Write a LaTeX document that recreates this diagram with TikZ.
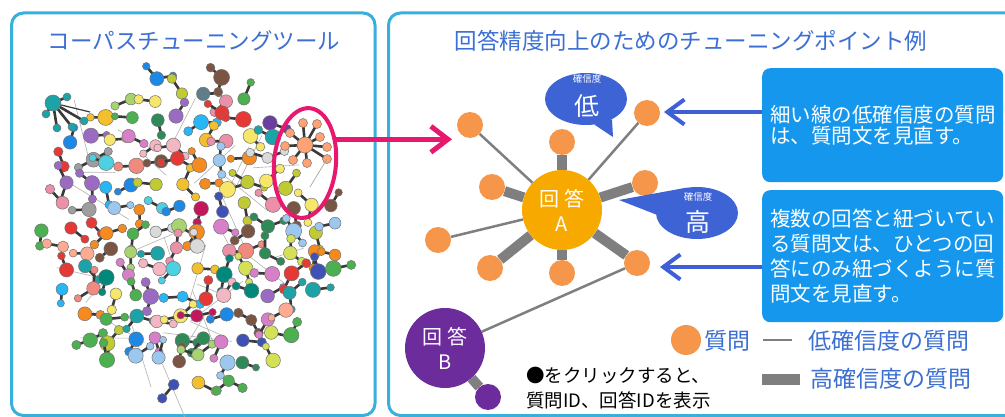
\documentclass[tikz,border=0pt]{standalone}
\usepackage{fontspec}
\setmainfont{Noto Sans CJK JP}
\usetikzlibrary{arrows.meta,shapes.geometric,backgrounds}
\definecolor{panel}{HTML}{38B0DC}
\definecolor{ttl}{HTML}{3B6FD3}
\definecolor{mag}{HTML}{E8186E}
\definecolor{barrowc}{HTML}{3F5FD6}
\definecolor{qor}{HTML}{F5964A}
\definecolor{gold}{HTML}{F8A900}
\definecolor{purp}{HTML}{6C2C9C}
\definecolor{edgec}{HTML}{7F7F7F}
\definecolor{boxc}{HTML}{1597EE}
\definecolor{bub}{HTML}{3E63D4}
\definecolor{bondc}{HTML}{3A3A3A}
\definecolor{c1}{HTML}{1BA3A8}
\definecolor{c2}{HTML}{F58A1F}
\definecolor{c3}{HTML}{9B6BC4}
\definecolor{c4}{HTML}{6A3FA0}
\definecolor{c5}{HTML}{E53935}
\definecolor{c6}{HTML}{C2185B}
\definecolor{c7}{HTML}{EC8FA8}
\definecolor{c8}{HTML}{D77FC8}
\definecolor{c9}{HTML}{A8D46F}
\definecolor{c10}{HTML}{4CAF50}
\definecolor{c11}{HTML}{2E8B57}
\definecolor{c12}{HTML}{D4E157}
\definecolor{c13}{HTML}{F6E66A}
\definecolor{c14}{HTML}{F2BF2E}
\definecolor{c15}{HTML}{29B6F6}
\definecolor{c16}{HTML}{1E88E5}
\definecolor{c17}{HTML}{3F51B5}
\definecolor{c18}{HTML}{9CC8F0}
\definecolor{c19}{HTML}{607D8B}
\definecolor{c20}{HTML}{9E9E9E}
\definecolor{c21}{HTML}{DADADA}
\definecolor{c22}{HTML}{7B5544}
\definecolor{c23}{HTML}{F08A7E}
\definecolor{c24}{HTML}{F4B6C2}
\definecolor{c25}{HTML}{4DD0E1}
\definecolor{c26}{HTML}{C0CA33}
\definecolor{c27}{HTML}{00897B}
\definecolor{c28}{HTML}{FFAB91}
\begin{document}
\begin{tikzpicture}[x=1pt,y=-1pt,
  panelbox/.style={draw=panel, line width=3pt, rounded corners=12pt},
  ttlfont/.style={font=\fontsize{22.5}{27}\selectfont, text=ttl, inner sep=0},
  qnode/.style={circle, fill=qor, minimum size=26pt, inner sep=0},
  ans/.style={circle, minimum size=80pt, inner sep=0, text=white, align=center, font=\fontsize{20}{25}\selectfont},
  hiedge/.style={line width=10pt, draw=edgec},
  loedge/.style={line width=2.5pt, draw=edgec},
  tbox/.style={rounded corners=8pt, fill=boxc, text=white, align=left, inner sep=8pt, text width=225pt, anchor=north west},
  bubble/.style={ellipse, fill=bub, minimum width=82pt, minimum height=52pt, inner sep=0},
  marrow/.style={draw=mag, line width=5pt, -{Straight Barb[length=17pt,width=26pt]}},
  barrow/.style={draw=barrowc, line width=4pt, -{Straight Barb[length=17pt,width=25pt]}},
  bond/.style={draw=bondc, line width=2.6pt},
  ball/.style={draw=black!55, line width=0.5pt},
  legtext/.style={font=\fontsize{23}{27}\selectfont, text=ttl, inner sep=0, anchor=west}
]
\useasboundingbox (0,0) rectangle (1005,417);
\begin{pgfonlayer}{background}
\fill[white] (0,0) rectangle (1005,417);
\end{pgfonlayer}
% panels
\draw[panelbox] (11.5,13) rectangle (375,415.5);
\draw[panelbox] (388.5,13) rectangle (1020,415.5);
\node[ttlfont] (t1) at (194,41) {コーパスチューニングツール};
\node[ttlfont] (t2) at (691,41) {回答精度向上のためのチューニングポイント例};

% ---------- left cloud ----------
\pgfmathsetseed{31415}
\foreach \j in {1,...,30}{
  \pgfmathsetmacro{\ang}{360*rnd}
  \pgfmathsetmacro{\rr}{sqrt(rnd)}
  \pgfmathsetmacro{\cx}{190+130*\rr*cos(\ang)}
  \pgfmathsetmacro{\cy}{232+140*\rr*sin(\ang)}
  \pgfmathsetmacro{\la}{360*rnd}
  \pgfmathsetmacro{\ll}{25+50*rnd}
  \draw[gray!60, line width=0.6pt] (\cx,\cy) -- ++(\la:\ll);
}
\foreach \gx in {0,...,13}{
 \foreach \gy in {0,...,14}{
  \pgfmathsetmacro{\cx}{44+22.5*\gx+12*(rnd-0.5)}
  \pgfmathsetmacro{\cy}{74+22*\gy+12*(rnd-0.5)}
  \pgfmathsetmacro{\ba}{360*rnd}
  \pgfmathsetmacro{\bl}{14+5*rnd}
  \pgfmathsetmacro{\rb}{5.5+2.5*rnd}
  \pgfmathsetmacro{\rs}{3.5+1.3*rnd}
  \pgfmathtruncatemacro{\ci}{random(1,28)}
  \pgfmathtruncatemacro{\tri}{rnd<0.25 ? 1 : 0}
  \pgfmathsetmacro{\bb}{\ba+110+140*rnd}
  \pgfmathtruncatemacro{\ins}{((\cx-191)/150)^2+((\cy-232)/158)^2<1 ? 1 : 0}
  \pgfmathtruncatemacro{\nst}{veclen(\cx-305,\cy-148)<32 ? 0 : 1}
  \pgfmathtruncatemacro{\nte}{veclen(\cx-62,\cy-110)<24 ? 0 : 1}
  \pgfmathtruncatemacro{\ok}{\ins*\nst*\nte}
  \ifnum\ok=1
    \draw[bond] (\cx,\cy) -- ++(\ba:\bl);
    \ifnum\tri=1 \draw[bond] (\cx,\cy) -- ++(\bb:\bl); \filldraw[ball, fill=c\ci] (\cx,\cy) ++(\bb:\bl) circle[radius=\rs]; \fi
    \filldraw[ball, fill=c\ci] (\cx,\cy) ++(\ba:\bl) circle[radius=\rs];
    \filldraw[ball, fill=c\ci] (\cx,\cy) circle[radius=\rb];
  \fi
 }
}
% teal star (top left)
\foreach \p in {(67,97),(46,114),(57,128),(72,127),(84,121)}{
  \draw[bond] (53,103) -- \p;
  \filldraw[ball, fill=c1] \p circle[radius=4];
}
\draw[bondc, line width=1.2pt] (53,103) -- (90,112);
\filldraw[ball, fill=c1] (53,103) circle[radius=8];
% orange star (in ellipse)
\foreach \p in {(303,123),(317,124),(290,133),(320,137),(285,146),(327,147),(293,160),(307,163),(327,159)}{
  \draw[bond] (305,145) -- \p;
  \filldraw[ball, fill=c28!80!orange] \p circle[radius=4.5];
}
\filldraw[ball, fill=c28!80!orange] (305,145) circle[radius=8];
\draw[gray!70, line width=0.7pt] (327,159) -- (310,187);

% magenta ellipse and arrow
\node[ellipse, draw=mag, line width=4pt, minimum width=62pt, minimum height=110pt, inner sep=0, rotate=-5] (ell) at (305,163) {};
\coordinate (mtip) at (452,138);
\draw[marrow] (ell.42) -- (ell.42 -| mtip);

% ---------- right diagram ----------
\node[ans, fill=gold] (A) at (562,210) {回 答\\A};
\node[ans, fill=purp] (B) at (445,348) {回 答\\B};
\node[qnode] (q1) at (470,125) {};
\node[qnode] (q2) at (562,142) {};
\node[qnode] (q3) at (647,113) {};
\node[qnode] (q4) at (645,183) {};
\node[qnode] (q5) at (492,187) {};
\node[qnode] (q6) at (438,240) {};
\node[qnode] (q7) at (490,268) {};
\node[qnode] (q8) at (562,273) {};
\node[qnode] (q9) at (637,263) {};
\node[qnode, fill=purp] (pb) at (488,397) {};

\begin{pgfonlayer}{background}
\draw[loedge] (A) -- (q1);
\draw[hiedge] (A) -- (q2);
\draw[loedge] (A) -- (q3);
\draw[hiedge] (A) -- (q4);
\draw[hiedge] (A) -- (q5);
\draw[loedge] (A) -- (q6);
\draw[hiedge] (A) -- (q7);
\draw[hiedge] (A) -- (q8);
\draw[hiedge] (A) -- (q9);
\draw[loedge] (B) -- (q9);
\draw[hiedge] (B) -- (pb);
\end{pgfonlayer}

% speech bubbles
\node[bubble] (b1) at (586,99) {};
\fill[bub] (b1.-72) -- (613,137) -- (b1.-38) -- cycle;
\node[text=white, inner sep=0, font=\fontsize{9.5}{10}\selectfont] (b1s) at (587,79) {確信度};
\node[text=white, inner sep=0, font=\fontsize{25}{28}\selectfont] (b1t) at (587,106) {低};
\node[bubble] (b2) at (697,213) {};
\fill[bub] (b2.112) -- (619,200) -- (b2.182) -- cycle;
\node[text=white, inner sep=0, font=\fontsize{9.5}{10}\selectfont] (b2s) at (698,197) {確信度};
\node[text=white, inner sep=0, font=\fontsize{25}{28}\selectfont] (b2t) at (698,222) {高};

% text boxes
\node[tbox, minimum height=114pt, font=\fontsize{20.5}{21}\selectfont] (box1) at (762,68) {細い線の低確信度の質問\\は、質問文を見直す。};
\node[tbox, minimum height=132pt, font=\fontsize{20.5}{25}\selectfont] (box2) at (762,190) {複数の回答と紐づいてい\\る質問文は、ひとつの回\\答にのみ紐づくように質\\問文を見直す。};
\coordinate (t1tip) at (664,112);
\coordinate (t2tip) at (660,267);
\draw[barrow] (box1.west |- t1tip) -- (t1tip);
\draw[barrow] (box2.west |- t2tip) -- (t2tip);

% legend
\node[qnode, minimum size=30pt] (lq) at (686,340) {};
\node[legtext] (lqt) at (704,341) {質問};
\coordinate (l1a) at (763,340);
\coordinate (l1b) at (792,340);
\draw[loedge] (l1a) -- (l1b);
\node[legtext] (l1t) at (808,341) {低確信度の質問};
\coordinate (l2a) at (762,379);
\coordinate (l2b) at (800,379);
\draw[draw=edgec, line width=11pt] (l2a) -- (l2b);
\node[legtext] (l2t) at (810,379) {高確信度の質問};

% click note
\node[anchor=west, align=left, inner sep=0, font=\fontsize{18.5}{25}\selectfont] (note) at (526,388) {●をクリックすると、\\質問ID、回答IDを表示};
\end{tikzpicture}
\end{document}
